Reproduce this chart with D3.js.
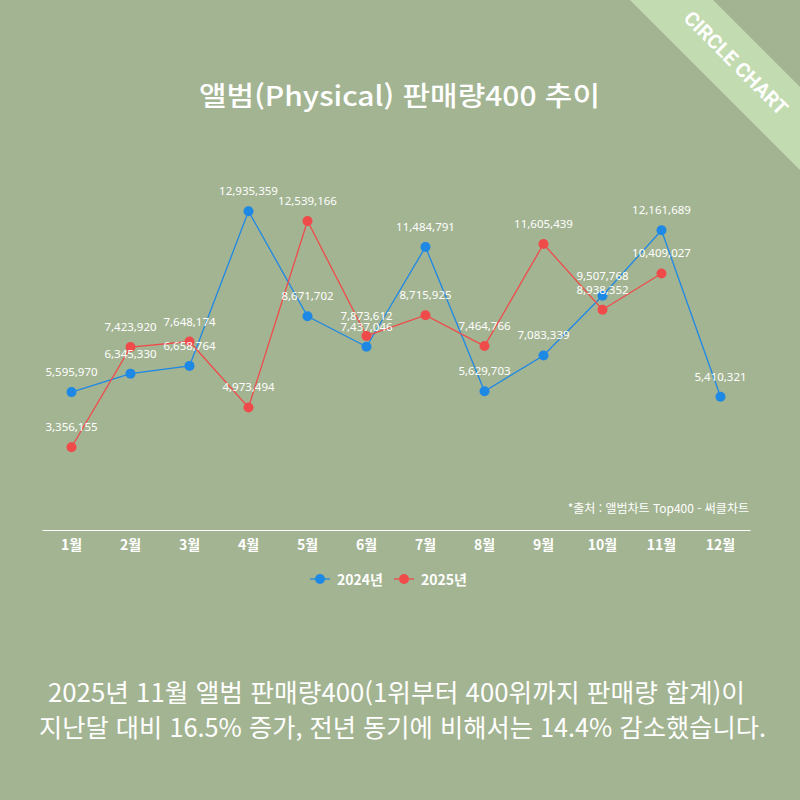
<!DOCTYPE html>
<html lang="ko">
<head>
<meta charset="utf-8">
<title>앨범(Physical) 판매량400 추이</title>
<script src="https://cdn.jsdelivr.net/npm/d3@7"></script>
<style>
  body { margin: 0; background: #a3b492; }
  svg { display: block; }
  text { fill: #fff; font-family: "Noto Sans CJK KR", "Noto Sans", sans-serif; }
  .label { font-size: 11.5px; font-family: "Noto Sans", sans-serif; }
  .note { font-size: 12px; }
</style>
</head>
<body>
<script>
// data
var months = ["1월", "2월", "3월", "4월", "5월", "6월", "7월", "8월", "9월", "10월", "11월", "12월"];
var sales2024 = [5595970, 6345330, 6658764, 12935359, 8671702, 7437046, 11484791, 5629703, 7083339, 9507768, 12161689, 5410321];
var sales2025 = [3356155, 7423920, 7648174, 4973494, 12539166, 7873612, 8715925, 7464766, 11605439, 8938352, 10409027];
var seriesNames = ["2024년", "2025년"];
var colors = ["#1e88e5", "#ef4b4b"];

var w = 800, h = 800;

var svg = d3.select("body").append("svg")
  .attr("width", w)
  .attr("height", h);

svg.append("rect").attr("width", w).attr("height", h).attr("fill", "#a3b492");

// corner ribbon
svg.append("path")
  .attr("d", "M630,0 L713,0 L800,87 L800,170 Z")
  .attr("fill", "#c2dbb0");
svg.append("text")
  .attr("transform", "translate(736,63) rotate(45)")
  .attr("text-anchor", "middle")
  .attr("dominant-baseline", "central")
  .style("font-family", "Roboto, sans-serif")
  .style("font-weight", "bold")
  .style("font-size", "20px")
  .text("CIRCLE CHART");

// title
svg.append("text")
  .attr("x", 199)
  .attr("y", 106)
  .attr("textLength", 401)
  .attr("lengthAdjust", "spacingAndGlyphs")
  .style("font-size", "27px")
  .style("font-weight", "500")
  .text("앨범(Physical) 판매량400 추이");

// scales
var xScale = d3.scaleBand()
  .domain(months)
  .range([42, 750]);

var yScale = d3.scaleLinear()
  .domain([0, 14000000])
  .range([530, 185]);

function cx(i) { return xScale(months[i]) + xScale.bandwidth() / 2; }

// x axis
var xAxis = d3.axisBottom(xScale).tickSize(0).tickPadding(10);
var gx = svg.append("g")
  .attr("transform", "translate(0,530)")
  .call(xAxis);
gx.select(".domain").attr("stroke", "#fff").attr("stroke-width", 1.2);
gx.selectAll(".tick text")
  .attr("fill", "#fff")
  .style("font-size", "14px")
  .style("font-weight", "bold")
  .style("font-family", "'Noto Sans CJK KR', sans-serif");

// source note
svg.append("text")
  .attr("class", "note")
  .attr("x", 749)
  .attr("y", 513)
  .attr("text-anchor", "end")
  .text("*출처 : 앨범차트 Top400 - 써클차트");

// lines
var line = d3.line()
  .x(function(d, i) { return cx(i); })
  .y(function(d) { return yScale(d); });

[sales2024, sales2025].forEach(function(data, k) {
  svg.append("path")
    .datum(data)
    .attr("fill", "none")
    .attr("stroke", colors[k])
    .attr("stroke-width", 1.3)
    .attr("d", line);

  svg.selectAll(".dot" + k)
    .data(data)
    .enter()
    .append("circle")
    .attr("cx", function(d, i) { return cx(i); })
    .attr("cy", function(d) { return yScale(d); })
    .attr("r", 5)
    .attr("fill", colors[k]);
});

// value labels
[sales2024, sales2025].forEach(function(data, k) {
  svg.selectAll(".lab" + k)
    .data(data)
    .enter()
    .append("text")
    .attr("class", "label")
    .attr("x", function(d, i) { return cx(i); })
    .attr("y", function(d) { return yScale(d) - 16; })
    .attr("text-anchor", "middle")
    .text(function(d) { return d3.format(",")(d); });
});

// legend
var legendX = [310, 394];
seriesNames.forEach(function(name, k) {
  var g = svg.append("g").attr("transform", "translate(" + legendX[k] + ",579)");
  g.append("line").attr("x1", 0).attr("x2", 20)
    .attr("stroke", colors[k]).attr("stroke-width", 1.3);
  g.append("circle").attr("cx", 10).attr("r", 5).attr("fill", colors[k]);
  g.append("text")
    .attr("x", 27)
    .attr("dominant-baseline", "central")
    .style("font-size", "14px")
    .style("font-weight", "bold")
    .text(name);
});

// summary text
svg.append("text")
  .attr("x", 48)
  .attr("y", 702)
  .attr("textLength", 697)
  .attr("lengthAdjust", "spacingAndGlyphs")
  .style("font-size", "25px")
  .text("2025년 11월 앨범 판매량400(1위부터 400위까지 판매량 합계)이");
svg.append("text")
  .attr("x", 39)
  .attr("y", 737)
  .attr("textLength", 727)
  .attr("lengthAdjust", "spacingAndGlyphs")
  .style("font-size", "25px")
  .text("지난달 대비 16.5% 증가, 전년 동기에 비해서는 14.4% 감소했습니다.");
</script>
</body>
</html>
